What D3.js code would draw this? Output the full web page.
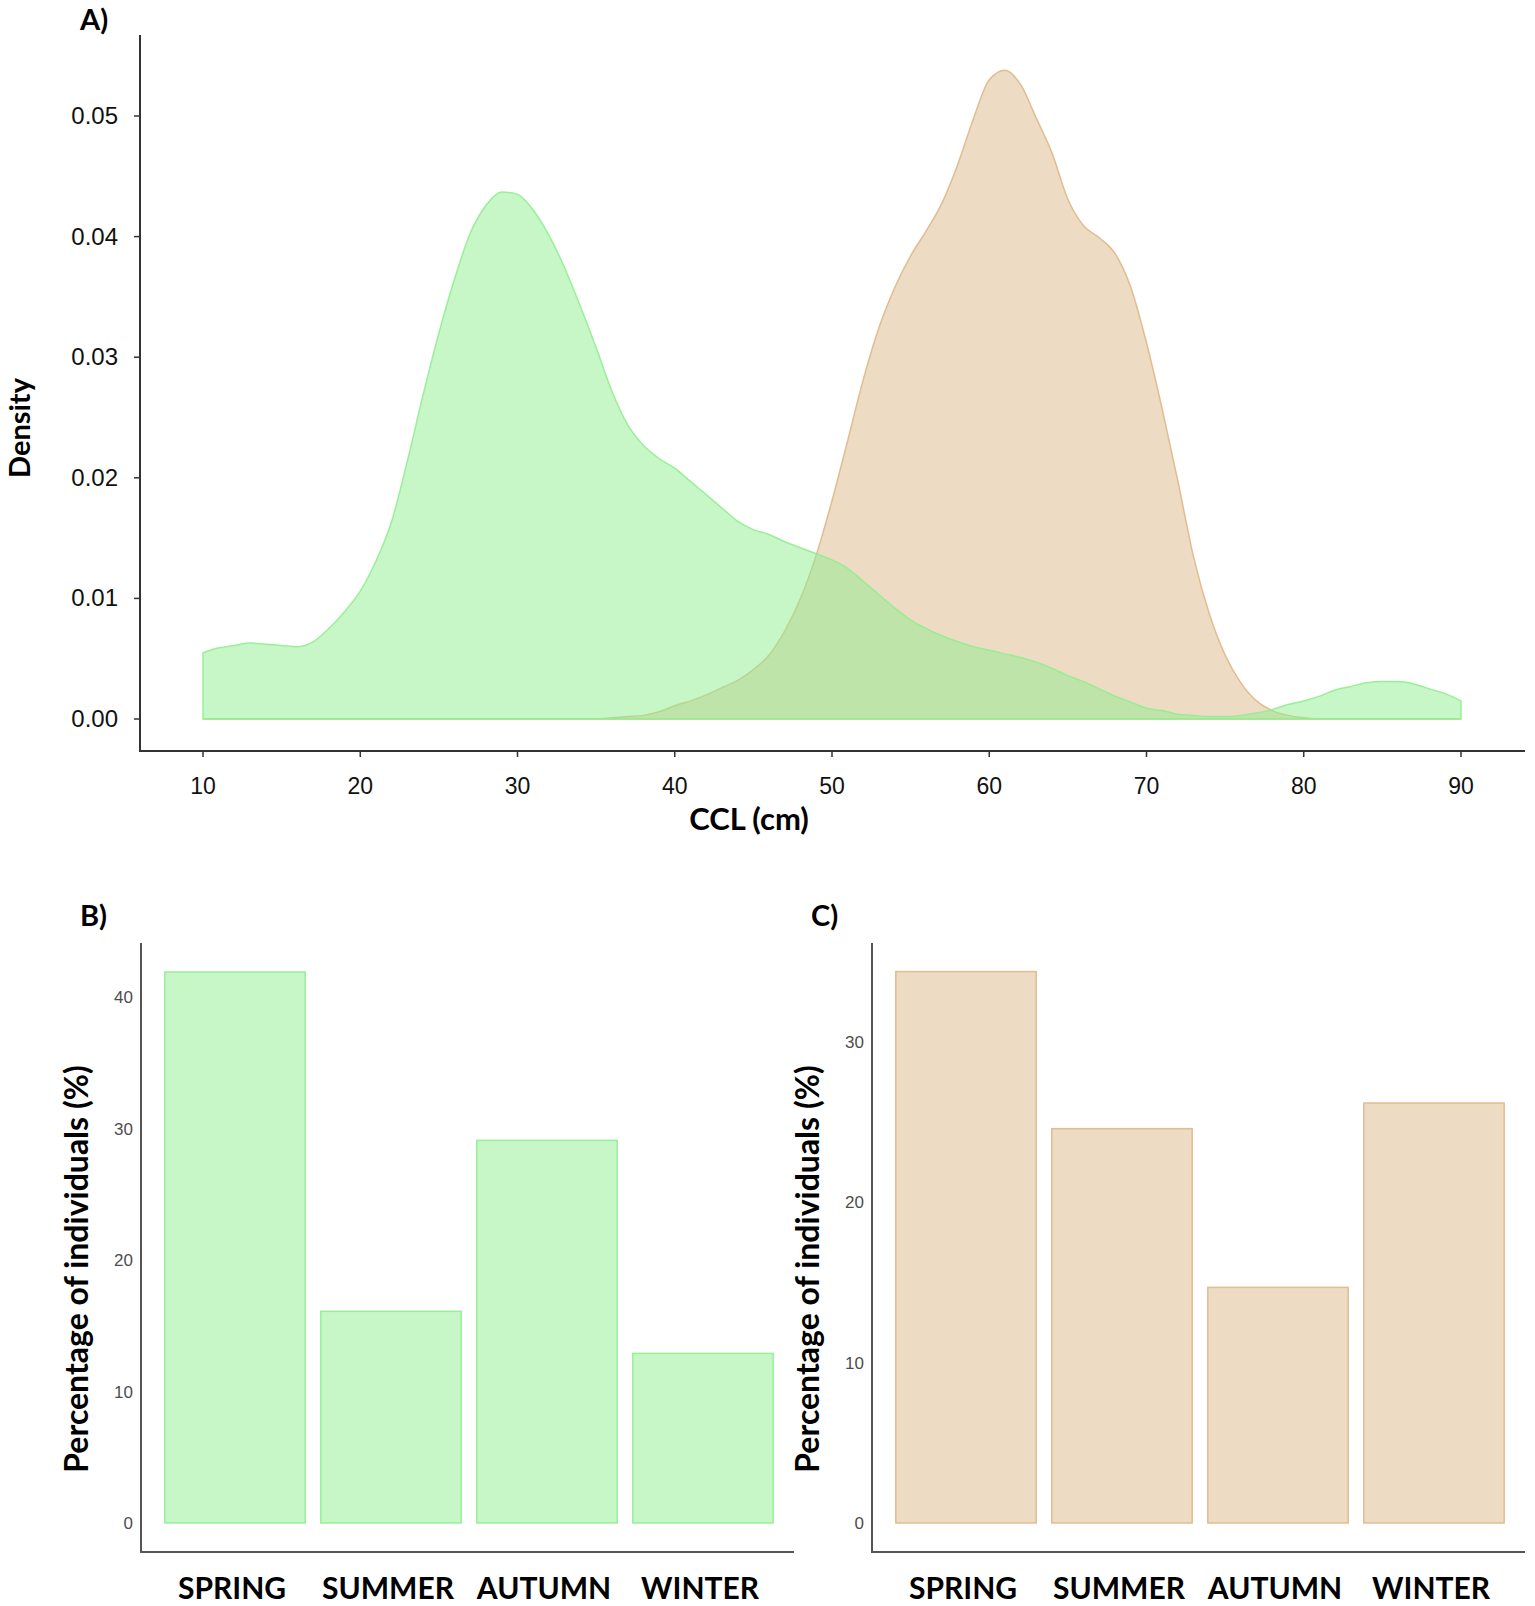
<!DOCTYPE html>
<html>
<head>
<meta charset="utf-8">
<script src="https://cdn.jsdelivr.net/npm/d3@7"></script>
<style>
  body { margin: 0; background: #fff; }
  svg { display: block; }
</style>
</head>
<body>
<div id="chart"></div>
<script>
// ---- data ----
const ccl = [10,11,12,13,14,15,16,17,18,19,20,21,22,23,24,25,26,27,28,29,30,
  31,32,33,34,35,36,37,38,39,40,41,42,43,44,45,46,47,48,49,50,
  51,52,53,54,55,56,57,58,59,60,61,62,63,64,65,66,67,68,69,70,
  71,72,73,74,75,76,77,78,79,80,81,82,83,84,85,86,87,88,89,90];

// green group density
const densityGreen = [0.0055,0.0059,0.0061,0.0063,0.0062,0.0061,0.0060,0.0064,0.0075,0.0089,0.0106,
  0.0131,0.0164,0.0214,0.0269,0.0320,0.0365,0.0403,0.0426,0.0437,0.0435,
  0.0422,0.0401,0.0374,0.0342,0.0308,0.0272,0.0244,0.0227,0.0216,0.0208,
  0.0197,0.0186,0.0175,0.0164,0.0157,0.0153,0.0147,0.0142,0.0137,0.0132,
  0.0125,0.0114,0.0103,0.0092,0.0082,0.0075,0.0069,0.0064,0.0060,0.0057,
  0.0054,0.0051,0.0047,0.0042,0.0036,0.0031,0.0025,0.0019,0.0014,0.0009,
  0.0007,0.0004,0.0003,0.0002,0.0002,0.0003,0.0005,0.0008,0.0012,0.0015,
  0.0019,0.0024,0.0027,0.0030,0.0031,0.0031,0.0029,0.0025,0.0021,0.0015];

// tan group density
const densityTan = [0,0,0,0,0,0,0,0,0,0,0,
  0,0,0,0,0,0,0,0,0,0,
  0,0,0,0,0,0.0001,0.0002,0.0003,0.0006,0.0011,
  0.0015,0.0020,0.0026,0.0032,0.0041,0.0053,0.0073,0.0100,0.0136,0.0181,
  0.0231,0.0282,0.0325,0.0358,0.0384,0.0405,0.0428,0.0460,0.0498,0.0530,
  0.0538,0.0526,0.0498,0.0469,0.0431,0.0409,0.0399,0.0386,0.0358,0.0312,
  0.0257,0.0197,0.0134,0.0087,0.0053,0.0030,0.0015,0.0007,0.0003,0.0001,
  0,0,0,0,0,0,0,0,0,0];

const seasons = ["SPRING", "SUMMER", "AUTUMN", "WINTER"];
const pctGreen = [41.9, 16.1, 29.1, 12.9];
const pctTan = [34.4, 24.6, 14.7, 26.2];

const xTicksA = [10, 20, 30, 40, 50, 60, 70, 80, 90];
const yTicksA = [0, 0.01, 0.02, 0.03, 0.04, 0.05];
const yTicksB = [0, 10, 20, 30, 40];
const yTicksC = [0, 10, 20, 30];

// ---- styles ----
const greenFill = "rgba(144,238,144,0.5)";
const greenLine = "rgba(144,238,144,0.9)";
const tanFill = "rgba(222,184,135,0.5)";
const tanLine = "rgba(222,184,135,0.9)";
const axisColor = "#333";
const labelFont = "Lato, 'Open Sans', sans-serif";
const tickFont = "'Liberation Sans', Arial, sans-serif";

const W = 1535, H = 1606;
const svg = d3.select("#chart").append("svg")
  .attr("width", W)
  .attr("height", H);

// ---------------------- Panel A: density ----------------------
const xA = d3.scaleLinear().domain([10, 90]).range([203, 1461]);
const yA = d3.scaleLinear().domain([0, 0.05]).range([719, 116]);

const area = (vals) => d3.area()
  .x((d, i) => xA(ccl[i]))
  .y0(yA(0))
  .y1(d => yA(d))
  .curve(d3.curveMonotoneX)(vals);

svg.append("path")
  .attr("d", area(densityTan))
  .attr("fill", tanFill)
  .attr("stroke", tanLine)
  .attr("stroke-width", 1.5);

svg.append("path")
  .attr("d", area(densityGreen))
  .attr("fill", greenFill)
  .attr("stroke", greenLine)
  .attr("stroke-width", 1.5);

// axes lines
svg.append("line")
  .attr("x1", 140).attr("x2", 140).attr("y1", 35).attr("y2", 751)
  .attr("stroke", axisColor).attr("stroke-width", 2);
svg.append("line")
  .attr("x1", 139).attr("x2", 1525).attr("y1", 751).attr("y2", 751)
  .attr("stroke", axisColor).attr("stroke-width", 2);

// y ticks
svg.selectAll(".ytA")
  .data(yTicksA)
  .enter()
  .append("line")
  .attr("x1", 134).attr("x2", 140)
  .attr("y1", d => yA(d)).attr("y2", d => yA(d))
  .attr("stroke", axisColor).attr("stroke-width", 1.5);
svg.selectAll(".ylA")
  .data(yTicksA)
  .enter()
  .append("text")
  .attr("x", 118)
  .attr("y", d => yA(d) + 8)
  .attr("text-anchor", "end")
  .attr("font-family", tickFont)
  .attr("font-size", "24px")
  .attr("fill", "#111")
  .text(d => d3.format(".2f")(d));

// x ticks
svg.selectAll(".xtA")
  .data(xTicksA)
  .enter()
  .append("line")
  .attr("x1", d => xA(d)).attr("x2", d => xA(d))
  .attr("y1", 751).attr("y2", 757)
  .attr("stroke", axisColor).attr("stroke-width", 1.5);
svg.selectAll(".xlA")
  .data(xTicksA)
  .enter()
  .append("text")
  .attr("x", d => xA(d))
  .attr("y", 794)
  .attr("text-anchor", "middle")
  .attr("font-family", tickFont)
  .attr("font-size", "23px")
  .attr("fill", "#111")
  .text(d => d);

svg.append("text")
  .attr("x", 749).attr("y", 830)
  .attr("text-anchor", "middle")
  .attr("font-family", labelFont)
  .attr("font-weight", "bold")
  .attr("font-size", "31px")
  .text("CCL (cm)");

svg.append("text")
  .attr("transform", "translate(30,428) rotate(-90)")
  .attr("text-anchor", "middle")
  .attr("font-family", labelFont)
  .attr("font-weight", "bold")
  .attr("font-size", "29px")
  .text("Density");

svg.append("text")
  .attr("x", 80).attr("y", 30)
  .attr("font-family", labelFont)
  .attr("font-weight", "bold")
  .attr("font-size", "29px")
  .text("A)");

// ---------------------- Panels B and C: bars ----------------------
function barPanel(opts) {
  const g = svg.append("g");
  const x = d3.scaleBand()
    .domain(seasons)
    .range([opts.left + 16, opts.left + 640])
    .paddingInner(0.1)
    .paddingOuter(0.05);
  const y = d3.scaleLinear()
    .domain([0, 10])
    .range([1523, 1523 - opts.per10]);

  g.selectAll("rect")
    .data(opts.values)
    .enter()
    .append("rect")
    .attr("x", (d, i) => x(seasons[i]))
    .attr("y", d => y(d))
    .attr("width", x.bandwidth())
    .attr("height", d => y(0) - y(d))
    .attr("fill", opts.fill)
    .attr("stroke", opts.line)
    .attr("stroke-width", 1.5);

  g.append("line")
    .attr("x1", opts.left).attr("x2", opts.left).attr("y1", 943).attr("y2", 1552)
    .attr("stroke", "#555").attr("stroke-width", 2);
  g.append("line")
    .attr("x1", opts.left - 1).attr("x2", opts.right).attr("y1", 1552).attr("y2", 1552)
    .attr("stroke", "#555").attr("stroke-width", 2);

  g.selectAll(".yl")
    .data(opts.ticks)
    .enter()
    .append("text")
    .attr("x", opts.left - 8)
    .attr("y", d => y(d) + 6)
    .attr("text-anchor", "end")
    .attr("font-family", tickFont)
    .attr("font-size", "17px")
    .attr("fill", "#4d4d4d")
    .text(d => d);

  g.selectAll(".xl")
    .data(seasons)
    .enter()
    .append("text")
    .attr("x", d => x(d) + x.bandwidth() / 2 - 3)
    .attr("y", 1599)
    .attr("text-anchor", "middle")
    .attr("font-family", labelFont)
    .attr("font-weight", "bold")
    .attr("font-size", "30px")
    .text(d => d);

  g.append("text")
    .attr("transform", "translate(" + (opts.left - 53) + ",1269) rotate(-90)")
    .attr("text-anchor", "middle")
    .attr("font-family", labelFont)
    .attr("font-weight", "bold")
    .attr("font-size", "32px")
    .text("Percentage of individuals (%)");

  g.append("text")
    .attr("x", opts.left - 61).attr("y", 926)
    .attr("font-family", labelFont)
    .attr("font-weight", "bold")
    .attr("font-size", "29px")
    .text(opts.tag);
}

barPanel({ left: 141, right: 794, values: pctGreen, ticks: yTicksB, per10: 131.5,
  fill: greenFill, line: greenLine, tag: "B)" });
barPanel({ left: 872, right: 1525, values: pctTan, ticks: yTicksC, per10: 160.3,
  fill: tanFill, line: tanLine, tag: "C)" });
</script>
</body>
</html>
